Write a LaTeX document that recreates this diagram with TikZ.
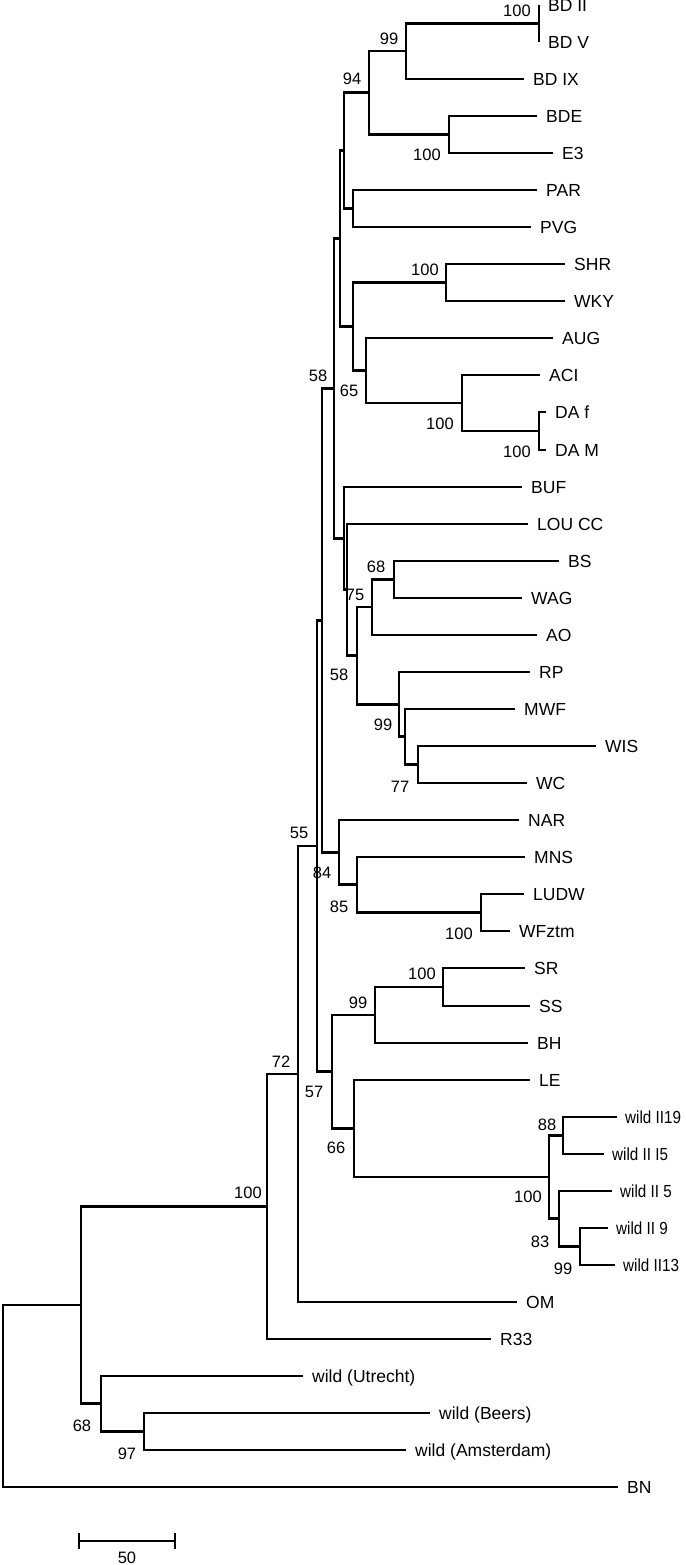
\documentclass[tikz,border=0pt]{standalone}
\usepackage{fontspec}
\setmainfont{Liberation Sans}
\newcommand\treefont{\fontsize{17.5}{19}\selectfont}
\newcommand\bsfont{\fontsize{16.5}{18}\selectfont}
\newcommand\narrowtext[1]{\scalebox{0.87}[1]{#1}}
\begin{document}
\begin{tikzpicture}[x=1pt,y=-1pt,
  br/.style={line width=2.9pt, line cap=butt, line join=miter},
  leaf/.style={anchor=west, inner xsep=9pt, inner ysep=0pt, text height=12.5pt, text depth=0pt, font=\treefont},
  wleaf/.style={leaf, inner xsep=8pt},
  bs/.style={inner sep=0pt, text height=11.8pt, text depth=0pt, font=\bsfont}]
\useasboundingbox (0,0) rectangle (685,1565);
% leaves
\node[leaf] (bdii) at (539,5) {BD II};
\node[leaf] (bdv) at (539,42) {BD V};
\node[leaf] (bdix) at (524,79) {BD IX};
\node[leaf] (bde) at (537,116) {BDE};
\node[leaf] (e3) at (553,153) {E3};
\node[leaf] (par) at (537,190) {PAR};
\node[leaf] (pvg) at (531,227) {PVG};
\node[leaf] (shr) at (565,264) {SHR};
\node[leaf] (wky) at (565,301) {WKY};
\node[leaf] (aug) at (553,338) {AUG};
\node[leaf] (aci) at (540,375) {ACI};
\node[leaf] (daf) at (546,412) {DA f};
\node[leaf] (dam) at (546,450) {DA M};
\node[leaf] (buf) at (522,487) {BUF};
\node[leaf] (lou) at (528,524) {LOU CC};
\node[leaf] (bs) at (559,561) {BS};
\node[leaf] (wag) at (522,598) {WAG};
\node[leaf] (ao) at (537,635) {AO};
\node[leaf] (rp) at (530,672) {RP};
\node[leaf] (mwf) at (515,709) {MWF};
\node[leaf] (wis) at (596,746) {WIS};
\node[leaf] (wc) at (527,783) {WC};
\node[leaf] (nar) at (519,820) {NAR};
\node[leaf] (mns) at (525,857) {MNS};
\node[leaf] (ludw) at (524,894) {LUDW};
\node[leaf] (wfz) at (510,931) {WFztm};
\node[leaf] (sr) at (525,968) {SR};
\node[leaf] (ss) at (530,1006) {SS};
\node[leaf] (bh) at (528,1043) {BH};
\node[leaf] (le) at (530,1080) {LE};
\node[wleaf] (w19) at (617,1117) {\narrowtext{wild II19}};
\node[wleaf] (wi5) at (604,1154) {\narrowtext{wild II I5}};
\node[wleaf] (w5) at (612,1191) {\narrowtext{wild II 5}};
\node[wleaf] (w9) at (608,1228) {\narrowtext{wild II 9}};
\node[wleaf] (w13) at (615,1265) {\narrowtext{wild II13}};
\node[leaf] (om) at (517,1302) {OM};
\node[leaf] (r33) at (491,1339) {R33};
\node[leaf] (utr) at (303,1376) {wild (Utrecht)};
\node[leaf] (beers) at (430,1413) {wild (Beers)};
\node[leaf] (ams) at (406,1450) {wild (Amsterdam)};
\node[leaf] (bn) at (618,1487) {BN};
% internal nodes
\coordinate (nBD) at (539,23.5);
\coordinate (n99) at (406,51);
\coordinate (nBDE) at (449,134.5);
\coordinate (n94) at (369,92.75);
\coordinate (nPAR) at (353,208.5);
\coordinate (nA) at (344,150.6);
\coordinate (nSHR) at (446,282.5);
\coordinate (nDA) at (539,431);
\coordinate (nACI) at (462,403);
\coordinate (n65) at (366,370.5);
\coordinate (nC) at (353,326.5);
\coordinate (nB) at (340,238.5);
\coordinate (n68) at (394,579.5);
\coordinate (n75) at (372,607);
\coordinate (n77) at (418,764.5);
\coordinate (n99b) at (405,736.75);
\coordinate (n58b) at (399,704.4);
\coordinate (nG) at (357,655.7);
\coordinate (nF) at (347,589.9);
\coordinate (nE) at (344,538.4);
\coordinate (nD) at (334,388.5);
\coordinate (nLUDW) at (481,912.5);
\coordinate (n85) at (357,884.75);
\coordinate (n84) at (339,852.4);
\coordinate (nI) at (322,620.4);
\coordinate (nSR) at (443,987);
\coordinate (n99c) at (375,1015);
\coordinate (n88) at (563,1135.5);
\coordinate (n99d) at (580,1246.5);
\coordinate (n83) at (559,1218.75);
\coordinate (n100w) at (549,1177);
\coordinate (n66) at (354,1128.5);
\coordinate (n57) at (332,1071.75);
\coordinate (nJ) at (317,846);
\coordinate (n72) at (298,1074);
\coordinate (n100r) at (267,1206.5);
\coordinate (n97) at (144,1431.5);
\coordinate (n68r) at (101,1403.75);
\coordinate (nR1) at (81,1305);
\coordinate (root) at (3,1396);
% branches
\draw[br] (nBD) |- (bdii.west);
\draw[br] (nBD) |- (bdv.west);
\draw[br] (n99) |- (nBD);
\draw[br] (n99) |- (bdix.west);
\draw[br] (nBDE) |- (bde.west);
\draw[br] (nBDE) |- (e3.west);
\draw[br] (n94) |- (n99);
\draw[br] (n94) |- (nBDE);
\draw[br] (nPAR) |- (par.west);
\draw[br] (nPAR) |- (pvg.west);
\draw[br] (nA) |- (n94);
\draw[br] (nA) |- (nPAR);
\draw[br] (nSHR) |- (shr.west);
\draw[br] (nSHR) |- (wky.west);
\draw[br] (nDA) |- (daf.west);
\draw[br] (nDA) |- (dam.west);
\draw[br] (nACI) |- (aci.west);
\draw[br] (nACI) |- (nDA);
\draw[br] (n65) |- (aug.west);
\draw[br] (n65) |- (nACI);
\draw[br] (nC) |- (nSHR);
\draw[br] (nC) |- (n65);
\draw[br] (nB) |- (nA);
\draw[br] (nB) |- (nC);
\draw[br] (n68) |- (bs.west);
\draw[br] (n68) |- (wag.west);
\draw[br] (n75) |- (n68);
\draw[br] (n75) |- (ao.west);
\draw[br] (n77) |- (wis.west);
\draw[br] (n77) |- (wc.west);
\draw[br] (n99b) |- (mwf.west);
\draw[br] (n99b) |- (n77);
\draw[br] (n58b) |- (rp.west);
\draw[br] (n58b) |- (n99b);
\draw[br] (nG) |- (n75);
\draw[br] (nG) |- (n58b);
\draw[br] (nF) |- (lou.west);
\draw[br] (nF) |- (nG);
\draw[br] (nE) |- (buf.west);
\draw[br] (nE) |- (nF);
\draw[br] (nD) |- (nB);
\draw[br] (nD) |- (nE);
\draw[br] (nLUDW) |- (ludw.west);
\draw[br] (nLUDW) |- (wfz.west);
\draw[br] (n85) |- (mns.west);
\draw[br] (n85) |- (nLUDW);
\draw[br] (n84) |- (nar.west);
\draw[br] (n84) |- (n85);
\draw[br] (nI) |- (nD);
\draw[br] (nI) |- (n84);
\draw[br] (nSR) |- (sr.west);
\draw[br] (nSR) |- (ss.west);
\draw[br] (n99c) |- (nSR);
\draw[br] (n99c) |- (bh.west);
\draw[br] (n88) |- (w19.west);
\draw[br] (n88) |- (wi5.west);
\draw[br] (n99d) |- (w9.west);
\draw[br] (n99d) |- (w13.west);
\draw[br] (n83) |- (w5.west);
\draw[br] (n83) |- (n99d);
\draw[br] (n100w) |- (n88);
\draw[br] (n100w) |- (n83);
\draw[br] (n66) |- (le.west);
\draw[br] (n66) |- (n100w);
\draw[br] (n57) |- (n99c);
\draw[br] (n57) |- (n66);
\draw[br] (nJ) |- (nI);
\draw[br] (nJ) |- (n57);
\draw[br] (n72) |- (nJ);
\draw[br] (n72) |- (om.west);
\draw[br] (n100r) |- (n72);
\draw[br] (n100r) |- (r33.west);
\draw[br] (n97) |- (beers.west);
\draw[br] (n97) |- (ams.west);
\draw[br] (n68r) |- (utr.west);
\draw[br] (n68r) |- (n97);
\draw[br] (nR1) |- (n100r);
\draw[br] (nR1) |- (n68r);
\draw[br] (root) |- (nR1);
\draw[br] (root) |- (bn.west);
% bootstrap values
\node[bs] (b1) at (517,11) {100};
\node[bs] (b2) at (389,39) {99};
\node[bs] (b3) at (352,79) {94};
\node[bs] (b4) at (427,155) {100};
\node[bs] (b5) at (425,270) {100};
\node[bs] (b6) at (349,391) {65};
\node[bs] (b7) at (318,376) {58};
\node[bs] (b8) at (440,424) {100};
\node[bs] (b9) at (517,452) {100};
\node[bs] (b10) at (376,567) {68};
\node[bs] (b11) at (355,595) {75};
\node[bs] (b12) at (339,675) {58};
\node[bs] (b13) at (383,725) {99};
\node[bs] (b14) at (400,787) {77};
\node[bs] (b15) at (299,833) {55};
\node[bs] (b16) at (322,873) {84};
\node[bs] (b17) at (339,907) {85};
\node[bs] (b18) at (459,934) {100};
\node[bs] (b19) at (422,974) {100};
\node[bs] (b20) at (358,1003) {99};
\node[bs] (b21) at (281,1062) {72};
\node[bs] (b22) at (314,1092) {57};
\node[bs] (b23) at (547,1125) {88};
\node[bs] (b24) at (336,1148) {66};
\node[bs] (b25) at (528,1197) {100};
\node[bs] (b26) at (248,1193) {100};
\node[bs] (b27) at (540,1242) {83};
\node[bs] (b28) at (563,1269) {99};
\node[bs] (b29) at (82,1426) {68};
\node[bs] (b30) at (127,1454) {97};
% scale bar
\coordinate (sb1) at (79,1541);
\coordinate (sb2) at (175,1541);
\draw[br] (sb1) -- (sb2);
\draw[br] ([yshift=-8pt]sb1) -- ([yshift=8pt]sb1);
\draw[br] ([yshift=-8pt]sb2) -- ([yshift=8pt]sb2);
\node[bs] (sblabel) at (127,1558) {50};
\end{tikzpicture}
\end{document}
